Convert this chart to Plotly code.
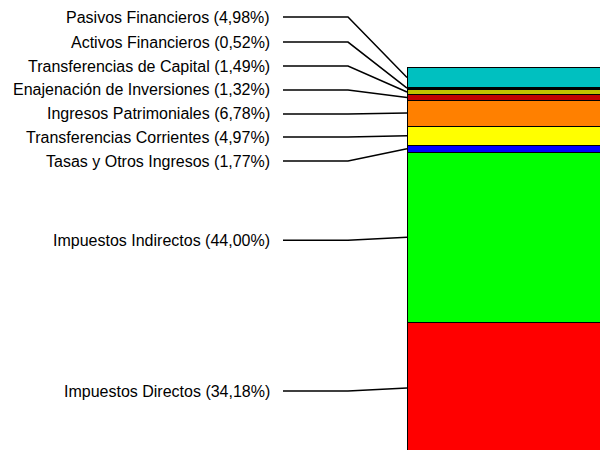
import plotly.graph_objects as go

# partidas de ingresos, de abajo arriba
conceptos = ['Impuestos Directos', 'Impuestos Indirectos', 'Tasas y Otros Ingresos',
             'Transferencias Corrientes', 'Ingresos Patrimoniales',
             'Enajenación de Inversiones', 'Transferencias de Capital',
             'Activos Financieros', 'Pasivos Financieros']
porcentajes = [34.18, 44.00, 1.77, 4.97, 6.78, 1.32, 1.49, 0.52, 4.98]
colores = ['#FF0000', '#00FF00', '#0000FF', '#FFFF00', '#FF8000',
           '#C00000', '#C0C000', '#000000', '#00C0C0']

# altura de cada etiqueta (en % del eje) para que no se pisen
y_etiqueta = [16.3, 55.4, 75.9, 82.1, 88.1, 94.3, 100.5, 106.7, 113.2]

# la pagina deja 8px de margen, el grafico ocupa 600x442
W, H = 600, 442


def px(x):
    return (x - 8) / W


fig = go.Figure()
for c, p, col in zip(conceptos, porcentajes, colores):
    fig.add_trace(go.Bar(x=[0], y=[p], name=c, width=10,
                         marker=dict(color=col, line=dict(color='black', width=1))))

base = 0
for c, p, ye in zip(conceptos, porcentajes, y_etiqueta):
    medio = base + p / 2
    base += p
    texto = '%s (%s%%)' % (c, ('%.2f' % p).replace('.', ','))
    fig.add_annotation(x=px(272), y=ye, xref='paper', yref='y', text=texto,
                       showarrow=False, xanchor='right', yanchor='middle',
                       font=dict(family='Liberation Sans', size=16, color='black'))
    fig.add_shape(type='path', xref='paper', yref='y',
                  path='M %f,%f L %f,%f L %f,%f' % (px(283), ye, px(348), ye,
                                                   px(407), medio),
                  line=dict(color='black', width=1.5))

# barra muy ancha desde x=407, cortada por el borde derecho
fig.update_layout(width=W, height=H, barmode='stack', showlegend=False,
                  margin=dict(l=0, r=0, t=0, b=0),
                  plot_bgcolor='white', paper_bgcolor='white',
                  xaxis=dict(range=[-5 - 399 / 251.25, -5 + 201 / 251.25],
                             visible=False),
                  yaxis=dict(range=[1.04, 115.54], visible=False))

fig.write_html("out.html")
